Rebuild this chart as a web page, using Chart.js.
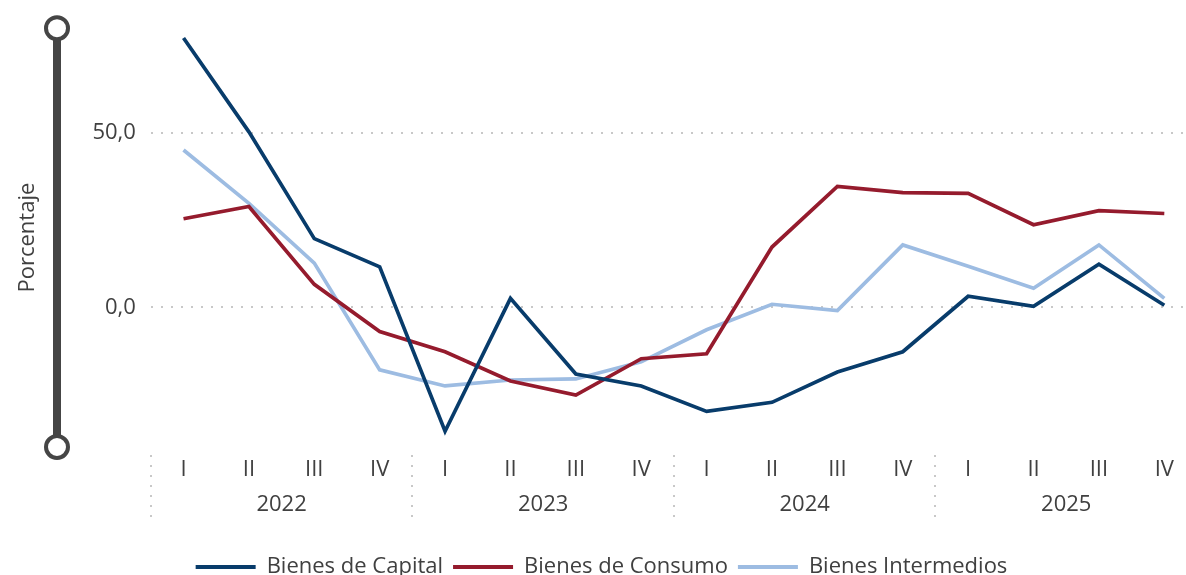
<!DOCTYPE html>
<html>
<head>
<meta charset="utf-8">
<script src="https://cdn.jsdelivr.net/npm/chart.js@4/dist/chart.umd.min.js"></script>
<style>
  html, body { margin: 0; padding: 0; background: #fff; overflow: hidden; }
  #wrap { position: absolute; left: 0; top: 0; }
</style>
</head>
<body>
<div id="wrap"><canvas id="importChart" width="1197" height="588"></canvas></div>
<script>
// trimestres y años
const quarters = ['I', 'II', 'III', 'IV', 'I', 'II', 'III', 'IV', 'I', 'II', 'III', 'IV', 'I', 'II', 'III', 'IV'];
const years = ['2022', '2023', '2024', '2025'];
const yTicks = [0, 50];

// variación en porcentaje
const bienesCapital = [77.2, 50.3, 19.7, 11.6, -35.5, 2.6, -19.1, -22.5, -29.8, -27.2, -18.5, -12.7, 3.2, 0.3, 12.4, 0.6];
const bienesConsumo = [25.4, 28.9, 6.6, -6.9, -12.7, -21.1, -25.1, -14.7, -13.3, 17.3, 34.7, 32.9, 32.7, 23.7, 27.7, 26.9];
const bienesIntermedios = [45.1, 29.8, 12.7, -17.9, -22.5, -20.8, -20.5, -15.6, -6.4, 0.9, -0.9, 17.9, 11.8, 5.5, 17.9, 2.6];

const textColor = '#404040';
const fontFamily = '"Segoe UI", "Open Sans", "Noto Sans", sans-serif';
const fontSize = 22;

// barra gris de la izquierda + separadores de años
const decoPlugin = {
    id: 'deco',
    afterDraw(chart) {
        const ctx = chart.ctx;
        const area = chart.chartArea;
        const x = chart.scales.x;
        const x2 = chart.scales.x2;

        // separadores punteados entre años
        const step = x.getPixelForValue(1) - x.getPixelForValue(0);
        ctx.save();
        ctx.strokeStyle = '#c8c8c8';
        ctx.lineWidth = 2;
        ctx.setLineDash([2, 8]);
        for (let g = 0; g < years.length; g++) {
            const px = Math.round(x.getPixelForValue(g * 4) - step / 2);
            ctx.beginPath();
            ctx.moveTo(px, x.top + 8);
            ctx.lineTo(px, x2.bottom + 6);
            ctx.stroke();
        }
        ctx.restore();

        // deslizador
        const sx = 57;
        ctx.save();
        ctx.strokeStyle = '#454545';
        ctx.lineWidth = 8;
        ctx.beginPath();
        ctx.moveTo(sx, area.top);
        ctx.lineTo(sx, area.bottom);
        ctx.stroke();
        ctx.lineWidth = 4;
        ctx.fillStyle = '#fff';
        [area.top, area.bottom].forEach(cy => {
            ctx.beginPath();
            ctx.arc(sx, cy, 11, 0, Math.PI * 2);
            ctx.fill();
            ctx.stroke();
        });
        ctx.restore();
    }
};

new Chart(document.getElementById('importChart').getContext('2d'), {
    type: 'line',
    data: {
        labels: quarters,
        datasets: [
            { label: 'Bienes de Capital', data: bienesCapital, borderColor: '#083c6b', backgroundColor: '#083c6b' },
            { label: 'Bienes de Consumo', data: bienesConsumo, borderColor: '#951b2d', backgroundColor: '#951b2d' },
            { label: 'Bienes Intermedios', data: bienesIntermedios, borderColor: '#9dbce2', backgroundColor: '#9dbce2' }
        ]
    },
    options: {
        responsive: false,
        animation: false,
        layout: { padding: { left: 6, right: 0, top: 2, bottom: 0 } },
        elements: {
            line: { borderWidth: 3.7, tension: 0 },
            point: { radius: 0, hoverRadius: 0 }
        },
        scales: {
            y: {
                min: -40,
                max: 80,
                afterBuildTicks: axis => { axis.ticks = yTicks.map(v => ({ value: v })); },
                ticks: {
                    color: textColor,
                    font: { family: fontFamily, size: fontSize },
                    padding: 15,
                    callback: v => v.toFixed(1).replace('.', ',')
                },
                grid: { color: '#c8c8c8', lineWidth: 2, drawTicks: false },
                border: { display: false, dash: [2, 8] },
                title: {
                    display: true,
                    text: 'Porcentaje',
                    color: textColor,
                    font: { family: fontFamily, size: fontSize },
                    padding: { top: 9, bottom: 36 }
                }
            },
            x: {
                offset: true,
                grid: { display: false, drawTicks: false },
                border: { display: false },
                ticks: {
                    color: textColor,
                    font: { family: fontFamily, size: fontSize },
                    padding: 10,
                    maxRotation: 0,
                    autoSkip: false
                }
            },
            x2: {
                type: 'category',
                labels: years,
                position: 'bottom',
                offset: true,
                grid: { display: false, drawTicks: false },
                border: { display: false },
                ticks: {
                    color: textColor,
                    font: { family: fontFamily, size: fontSize },
                    padding: -2,
                    maxRotation: 0
                }
            }
        },
        plugins: {
            legend: {
                position: 'bottom',
                // título vacío solo para separar la leyenda del eje
                title: { display: true, text: ' ', font: { size: 1 }, padding: { top: 29, bottom: 0 } },
                labels: {
                    color: textColor,
                    font: { family: fontFamily, size: fontSize },
                    usePointStyle: true,
                    pointStyle: 'line',
                    pointStyleWidth: 60,
                    padding: 10,
                    generateLabels: chart => Chart.defaults.plugins.legend.labels.generateLabels(chart)
                        .map(item => Object.assign(item, { lineWidth: 4 }))
                }
            },
            tooltip: { enabled: false }
        }
    },
    plugins: [decoPlugin]
});
</script>
</body>
</html>
